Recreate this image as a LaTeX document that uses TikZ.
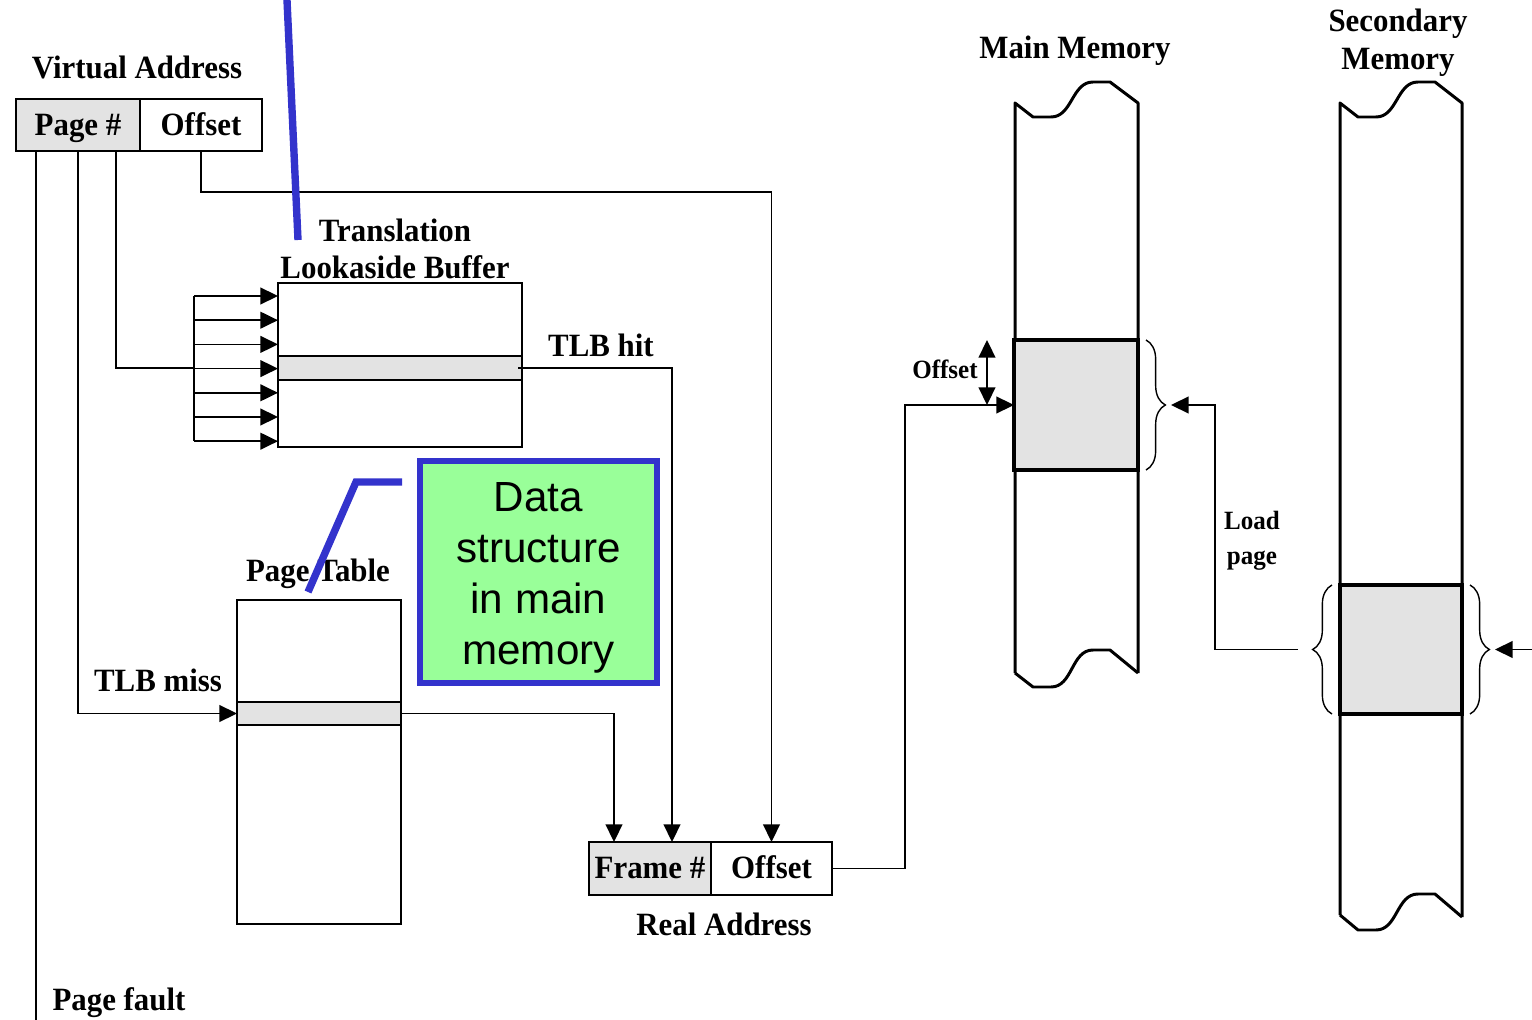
\documentclass[tikz,border=0pt]{standalone}
\usepackage{fontspec}
\setmainfont{Liberation Serif}[FakeStretch=0.95]
\newfontfamily\notefont{Liberation Sans}
\usetikzlibrary{positioning,calc,arrows.meta,decorations.pathreplacing}
\definecolor{cellgray}{HTML}{E3E3E3}
\definecolor{noteblue}{HTML}{3333CC}
\definecolor{notegreen}{HTML}{99FF99}
\newcommand{\pxu}{0.02cm}
\tikzset{
	lbl/.style={font=\bfseries\fontsize{18.5}{21.5}\selectfont, inner sep=0pt, align=center},
	slbl/.style={font=\bfseries\fontsize{15}{20}\selectfont, inner sep=0pt, align=center},
	cell/.style={draw, line width=1.1pt, inner sep=0pt, outer sep=0pt, text height=13pt, text depth=1.6pt, font=\bfseries\fontsize{18.5}{21.5}\selectfont},
	tbl/.style={draw, line width=1.1pt, inner sep=0pt, outer sep=0pt},
	memcol/.style={line width=1.7pt, line join=round},
	membox/.style={draw, fill=cellgray, line width=2.2pt, inner sep=0pt, outer sep=0pt},
	brc/.style={decorate, decoration={brace, amplitude=11pt}, line width=0.8pt},
	callout/.style={noteblue, line width=4.2pt},
}
\begin{document}
\begin{tikzpicture}[x=0.02cm, y=-0.02cm, >={Triangle[length=10pt,width=9.5pt]}, line width=1pt]
	\useasboundingbox (0,0) rectangle (1532,1020);

	\node[lbl] (valbl) at (137,67) {Virtual Address};
	\node[cell, fill=cellgray, minimum width=124*\pxu, minimum height=52*\pxu] (vapage) at (78,125) {Page \#};
	\node[cell, minimum width=122*\pxu, minimum height=52*\pxu, right=0pt of vapage] (vaoff) {Offset};

	\node[tbl, minimum width=244*\pxu, minimum height=164*\pxu] (tlb) at (400,365) {};
	\node[tbl, fill=cellgray, minimum width=244*\pxu, minimum height=24*\pxu] (tlbrow) at (400,368) {};
	\node[lbl] (tlblbl) at (395,249) {Translation\\Lookaside Buffer};

	\node[tbl, line width=1.6pt, minimum width=164*\pxu, minimum height=324*\pxu] (pt) at (319,762) {};
	\node[tbl, fill=cellgray, minimum width=164*\pxu, minimum height=23*\pxu] (ptrow) at (319,713.5) {};
	\node[lbl] (ptlbl) at (318,574) {Page Table};

	\node[cell, fill=cellgray, minimum width=122*\pxu, minimum height=53*\pxu] (frame) at (650,868.5) {Frame \#};
	\node[cell, minimum width=121*\pxu, minimum height=53*\pxu, right=0pt of frame] (raoff) {Offset};
	\node[lbl] (ralbl) at (724,924) {Real Address};

	\draw[memcol] (1015,673) -- (1015,103) -- ++(18,14) -- ++(18,0) to[out=0,in=180] ++(42,-35) -- ++(17,0) -- ++(28,21) -- (1138,673);
	\draw[memcol] (1015,673) -- ++(18,14) -- ++(18,0) to[out=0,in=180] ++(42,-37) -- ++(17,0) -- ++(28,23);
	\node[membox, minimum width=124*\pxu, minimum height=130*\pxu] (mmblk) at (1076,405) {};
	\node[lbl] (mmlbl) at (1075,51) {Main Memory};

	\draw[memcol] (1340,915) -- (1340,103) -- ++(18,14) -- ++(18,0) to[out=0,in=180] ++(42,-35) -- ++(17,0) -- ++(27,21) -- (1462,917);
	\draw[memcol] (1340,915) -- ++(18,15) -- ++(18,0) to[out=0,in=180] ++(42,-36) -- ++(17,0) -- ++(27,23);
	\node[membox, minimum width=122*\pxu, minimum height=129*\pxu] (smblk) at (1401,649.5) {};
	\node[lbl] (smlbl) at (1398,43) {Secondary\\Memory};

	\draw ($(vapage.south west)+(20,0)$) -- ++(0,870);
	\node[lbl] (pflbl) at (119,1003) {Page fault};
	\draw[->] (vapage.south) |- (ptrow.west);
	\node[lbl] (misslbl) at (158,680) {TLB miss};
	\draw ($(vapage.south)+(38,0)$) |- ($(tlbrow.west)+(-84,0)$);
	\draw[->] (vaoff.south) -- ++(0,41) -| (raoff.north);

	\draw ($(tlb.north west)+(-84,13)$) -- ++(0,145);
	\foreach \i in {0,...,6}
		\draw[->] ($(tlb.north west)+(-84,13+24.2*\i)$) -- ++(84,0);

	\draw[->] ($(tlbrow.east)+(-4,0)$) -| ($(frame.north)+(22,0)$);
	\node[lbl] (hitlbl) at (601,345) {TLB hit};
	\draw[->] (ptrow.east) -| ($(frame.north)+(-36,0)$);

	\draw[->] (raoff.east) -- ++(73,0) |- (mmblk.west);
	\draw[<->] ($(mmblk.north west)+(-27,0)$) -- ($(mmblk.west)+(-27,0)$);
	\node[slbl] (offlbl) at (945,369) {Offset};

	\draw[brc] ($(mmblk.north east)+(8,0)$) -- ($(mmblk.south east)+(8,0)$);
	\draw[brc] ($(smblk.south west)+(-8,0)$) -- ($(smblk.north west)+(-8,0)$);
	\draw[brc] ($(smblk.north east)+(8,0)$) -- ($(smblk.south east)+(8,0)$);
	\coordinate (mmin) at ($(mmblk.east)+(33,0)$);
	\draw[->] ($(smblk.west)+(-42,0)$) -| ($(mmblk.east)+(77,0)$) -- (mmin);
	\node[slbl] (loadlbl) at (1252,541) {Load\\page};
	\draw[->] ($(smblk.east)+(72,0)$) -- ($(smblk.east)+(33,0)$);

	\node[draw=noteblue, line width=3.4pt, fill=notegreen, minimum width=237*\pxu, minimum height=222*\pxu, inner sep=0pt] (note) at (538.5,572) {};
	\node[align=center, inner sep=0pt, font=\notefont\fontsize{24}{29}\selectfont] (notetxt) at ($(note)+(0,6)$) {Data\\structure\\in main\\memory};
	\draw[callout] ($(note.north west)+(-15,24)$) -- ++(-46,0) -- ++(-48,110);
	\draw[callout] (287,0) -- (298,240);
\end{tikzpicture}
\end{document}
